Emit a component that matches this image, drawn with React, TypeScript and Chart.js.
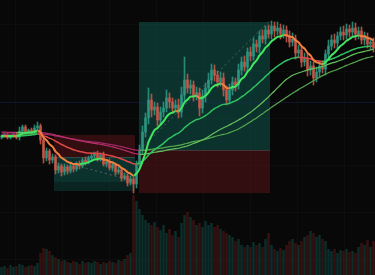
import { useEffect, useRef } from "react";
import { Chart, registerables } from "chart.js";
Chart.register(...registerables);

// Close prices per candle (arbitrary price units)
const closes = [
  139, 140, 138, 139, 140, 138, 144, 148, 143, 145,
  143, 147, 149, 135, 117, 124, 115, 118, 105, 109,
  103, 108, 104, 109, 106, 111, 109, 115, 113, 117,
  119, 121, 117, 120, 111, 113, 107, 110, 103, 105,
  97, 99, 92, 96, 91, 110, 125, 143, 157, 175,
  165, 168, 155, 163, 167, 177, 173, 167, 170, 163,
  180, 195, 187, 190, 179, 182, 167, 179, 187, 195,
  205, 200, 193, 197, 185, 175, 185, 193, 190, 205,
  213, 208, 223, 219, 231, 228, 239, 236, 245, 241,
  249, 244, 247, 241, 245, 239, 233, 236, 222, 225,
  213, 217, 205, 209, 197, 203, 209, 206, 221, 229,
  235, 232, 239, 243, 240, 246, 243, 247, 241, 244,
  235, 238, 231, 233, 227,
];
const firstOpen = 138;
const wickUp = [
  1, 2, 2, 1, 2, 3, 4, 2, 2, 1,
  2, 3, 4, 2, 2, 3, 2, 3, 2, 3,
  2, 3, 2, 3, 2, 2, 3, 2, 3, 2,
  3, 2, 3, 2, 3, 2, 3, 2, 2, 3,
  2, 3, 2, 3, 2, 4, 5, 6, 5, 12,
  6, 5, 4, 5, 6, 8, 5, 4, 5, 6,
  8, 23, 6, 5, 4, 6, 5, 6, 5, 7,
  6, 5, 4, 6, 5, 4, 6, 5, 4, 6,
  5, 6, 4, 5, 6, 4, 5, 6, 4, 5,
  5, 4, 6, 4, 5, 4, 5, 6, 4, 5,
  4, 5, 4, 5, 4, 5, 4, 5, 4, 6,
  5, 6, 4, 5, 6, 5, 4, 6, 5, 4,
  4, 5, 4, 3, 4,
];
const wickDn = [
  2, 1, 2, 2, 1, 2, 3, 2, 2, 2,
  2, 3, 2, 4, 5, 3, 4, 3, 4, 3,
  4, 3, 3, 2, 3, 2, 3, 2, 3, 2,
  3, 2, 3, 3, 2, 3, 2, 3, 3, 2,
  3, 2, 3, 2, 9, 4, 5, 4, 5, 6,
  7, 5, 6, 4, 5, 4, 6, 5, 4, 6,
  5, 6, 5, 6, 5, 4, 8, 5, 6, 5,
  4, 6, 5, 4, 6, 5, 4, 5, 6, 4,
  5, 4, 6, 5, 4, 5, 6, 4, 5, 4,
  5, 6, 4, 5, 4, 6, 5, 4, 6, 5,
  5, 4, 6, 5, 7, 4, 5, 4, 6, 5,
  4, 5, 6, 4, 5, 4, 5, 4, 6, 5,
  4, 5, 4, 5, 4,
];
const volumes = [
  8, 9, 7, 10, 8, 9, 11, 10, 8, 9,
  10, 9, 12, 22, 27, 26, 24, 20, 18, 16,
  14, 15, 13, 12, 14, 13, 11, 14, 12, 13,
  12, 14, 13, 11, 13, 12, 14, 13, 12, 15,
  14, 16, 20, 22, 80, 74, 66, 60, 55, 52,
  50, 53, 48, 45, 50, 42, 46, 40, 44, 38,
  52, 60, 63, 58, 55, 50, 52, 48, 54, 50,
  52, 48, 50, 46, 44, 42, 40, 38, 34, 36,
  30, 28, 30, 28, 33, 30, 32, 28, 36, 42,
  30, 26, 24, 27, 25, 30, 34, 36, 32, 30,
  34, 38, 40, 44, 42, 38, 40, 36, 34, 26,
  24, 26, 22, 25, 24, 26, 23, 24, 22, 28,
  32, 30, 35, 28, 34,
];

// Moving averages: kind, period, and price level before the visible window
const maKinds = ["ema", "ema", "sma", "sma"];
const maPeriods = [9, 32, 50, 62];
const maSeeds = [139, 138, 143, 141];
const maUpColors = ["#42e462", "#2fc060", "#66c05c", "#56a84e"];
const maDownColors = ["#f08040", "#e04848", "#b8306c", "#a02a66"];
const maWidths = [2, 1.5, 1.2, 1.2];

// Position boxes (candle index range and price levels)
const boxStart = [17.5, 45.8];
const boxEnd = [44.5, 89.5];
const boxEntry = [118, 125];
const boxStop = [140, 82];
const boxTarget = [84, 253];
const boxReached = [93, 253];
const tradeLineFrom = [[28, 107], [46, 125]];
const tradeLineTo = [[44, 94], [89, 253]];
const levelLine = 173;

const priceMin = 0;
const priceMax = 275;
const volMax = 275;

function ema(values: number[], period: number, seed: number) {
  const k = 2 / (period + 1);
  let e = seed;
  return values.map((v) => (e = e + k * (v - e)));
}
function sma(values: number[], period: number, seed: number) {
  return values.map((_, i) => {
    let s = 0;
    for (let j = i - period + 1; j <= i; j++) s += j < 0 ? seed : values[j];
    return s / period;
  });
}

export default function App() {
  const ref = useRef<HTMLCanvasElement>(null);
  useEffect(() => {
    const canvas = ref.current!;
    const labels = closes.map((_, i) => String(i));
    const opens = closes.map((_, i) => (i === 0 ? firstOpen : closes[i - 1]));
    const isUp = closes.map((c, i) => c >= opens[i]);
    const bodies = closes.map((c, i) => [Math.min(c, opens[i]), Math.max(c, opens[i])]);
    const wicks = closes.map((c, i) => [
      Math.min(c, opens[i]) - wickDn[i],
      Math.max(c, opens[i]) + wickUp[i],
    ]);
    const upC = "rgba(46,150,130,0.88)";
    const dnC = "rgba(200,88,74,0.88)";
    const candleColors = isUp.map((u) => (u ? upC : dnC));
    const volColors = isUp.map((u) => (u ? "rgba(20,110,96,0.36)" : "rgba(120,30,30,0.42)"));

    const maSets = maPeriods.map((p, k) => ({
      type: "line" as const,
      data: maKinds[k] === "ema" ? ema(closes, p, maSeeds[k]) : sma(closes, p, maSeeds[k]),
      borderColor: maUpColors[k],
      borderWidth: maWidths[k],
      pointRadius: 0,
      tension: 0.3,
      yAxisID: "y",
      order: 1 + k * 0.1,
      segment: {
        borderColor: (ctx: any) =>
          ctx.p1.parsed.y >= ctx.p0.parsed.y ? maUpColors[k] : maDownColors[k],
      },
    }));

    const tradeSets = tradeLineFrom.map((from, k) => {
      const arr: (number | null)[] = closes.map(() => null);
      arr[from[0]] = from[1];
      arr[tradeLineTo[k][0]] = tradeLineTo[k][1];
      return {
        type: "line" as const,
        data: arr,
        borderColor: "rgba(150,150,150,0.5)",
        borderWidth: 1,
        borderDash: [2, 3],
        pointRadius: 0,
        spanGaps: true,
        yAxisID: "y",
        order: 3,
      };
    });

    const bgPlugin = {
      id: "bgAndBoxes",
      beforeDraw(chart: any) {
        const { ctx, width, height } = chart;
        ctx.save();
        ctx.fillStyle = "#080808";
        ctx.fillRect(0, 0, width, height);
        ctx.strokeStyle = "rgba(255,255,255,0.022)";
        ctx.lineWidth = 1;
        for (let x = 15.5; x < width; x += 47) {
          ctx.beginPath();
          ctx.moveTo(x, 0);
          ctx.lineTo(x, height);
          ctx.stroke();
        }
        for (let y = 24.5; y < height; y += 47) {
          ctx.beginPath();
          ctx.moveTo(0, y);
          ctx.lineTo(width, y);
          ctx.stroke();
        }
        ctx.restore();
      },
      beforeDatasetsDraw(chart: any) {
        const { ctx } = chart;
        const xs = chart.scales.x;
        const ys = chart.scales.y;
        ctx.save();
        boxStart.forEach((s, k) => {
          const x0 = xs.getPixelForValue(s);
          const x1 = xs.getPixelForValue(boxEnd[k]);
          const yE = ys.getPixelForValue(boxEntry[k]);
          const yS = ys.getPixelForValue(boxStop[k]);
          const yT = ys.getPixelForValue(boxTarget[k]);
          const yR = ys.getPixelForValue(boxReached[k]);
          ctx.fillStyle = "rgba(110,24,30,0.42)";
          ctx.fillRect(x0, Math.min(yE, yS), x1 - x0, Math.abs(yS - yE));
          ctx.fillStyle = "rgba(16,100,86,0.32)";
          ctx.fillRect(x0, Math.min(yE, yT), x1 - x0, Math.abs(yT - yE));
          ctx.fillStyle = "rgba(16,100,86,0.22)";
          ctx.fillRect(x0, Math.min(yE, yR), x1 - x0, Math.abs(yR - yE));
          ctx.strokeStyle = "rgba(120,140,140,0.3)";
          ctx.beginPath();
          ctx.moveTo(x0, Math.round(yE) + 0.5);
          ctx.lineTo(x1, Math.round(yE) + 0.5);
          ctx.stroke();
        });
        const yl = Math.round(ys.getPixelForValue(levelLine)) + 0.5;
        ctx.strokeStyle = "rgba(30,45,110,0.35)";
        ctx.beginPath();
        ctx.moveTo(0, yl);
        ctx.lineTo(chart.width, yl);
        ctx.stroke();
        ctx.restore();
      },
    };

    const chart = new Chart(canvas, {
      data: {
        labels,
        datasets: [
          {
            type: "bar",
            data: volumes,
            backgroundColor: volColors,
            yAxisID: "yv",
            barPercentage: 0.85,
            categoryPercentage: 1,
            grouped: false,
            order: 10,
          } as any,
          {
            type: "bar",
            data: wicks,
            backgroundColor: candleColors,
            yAxisID: "y",
            barThickness: 1,
            grouped: false,
            order: 5,
          } as any,
          {
            type: "bar",
            data: bodies,
            backgroundColor: candleColors,
            yAxisID: "y",
            barThickness: 2,
            minBarLength: 1,
            grouped: false,
            order: 4,
          } as any,
          ...tradeSets,
          ...maSets,
        ],
      },
      options: {
        animation: false,
        responsive: false,
        devicePixelRatio: 1,
        layout: { padding: 0 },
        plugins: { legend: { display: false }, tooltip: { enabled: false } },
        scales: {
          x: { type: "category", display: false, offset: true },
          y: { type: "linear", display: false, min: priceMin, max: priceMax },
          yv: { type: "linear", display: false, min: 0, max: volMax },
        },
      },
      plugins: [bgPlugin],
    } as any);
    return () => chart.destroy();
  }, []);
  return (
    <div style={{ position: "fixed", left: 0, top: 0, width: 375, height: 275, background: "#080808" }}>
      <canvas ref={ref} width={375} height={275} style={{ display: "block" }} />
    </div>
  );
}
